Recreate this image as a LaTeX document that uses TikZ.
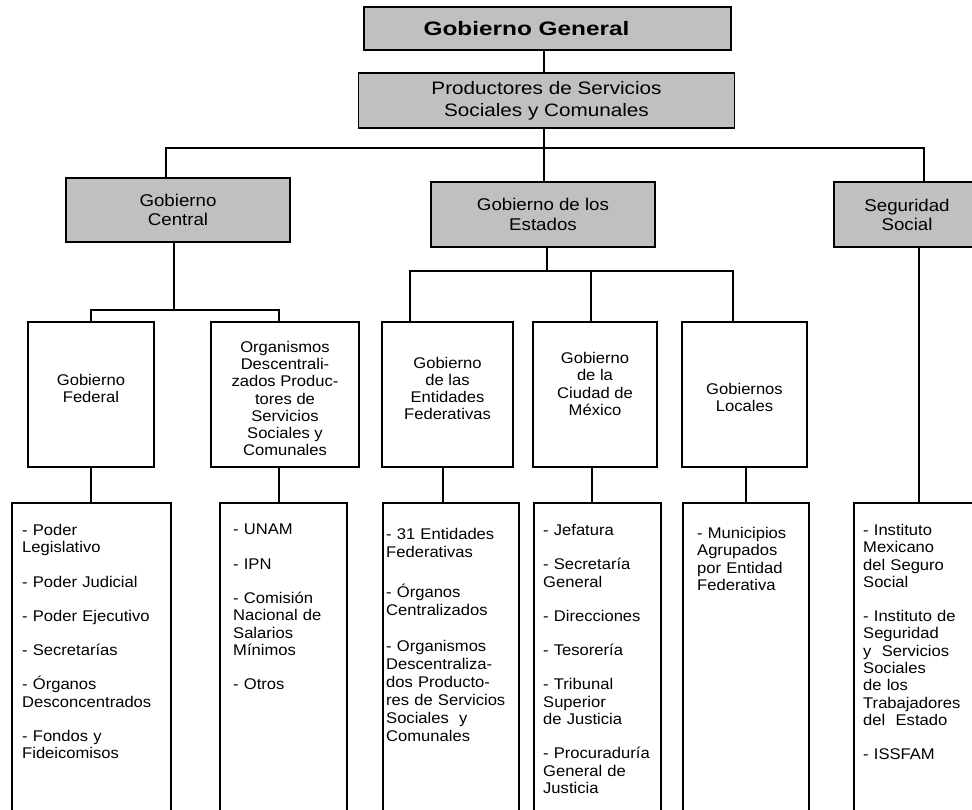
\documentclass[tikz,border=0pt]{standalone}
\usepackage{fontspec}
\setmainfont{Liberation Sans}[FakeStretch=1.07]
\newfontfamily\titlefont{Liberation Sans}[FakeStretch=1.25]
\newfontfamily\prodfont{Liberation Sans}[FakeStretch=1.15]
\newfontfamily\secfont{Liberation Sans}[FakeStretch=1.1]
\definecolor{boxgray}{RGB}{192,192,192}

\begin{document}
\begin{tikzpicture}[x=1pt,y=-1pt,
    topbox/.style={draw,line width=1.8pt,fill=boxgray,inner sep=0pt,align=center},
    midbox/.style={draw,line width=1.8pt,inner sep=0pt,minimum width=#1,minimum height=145},
    midtxt/.style={inner sep=0pt,align=center,font=\fontsize{15.5}{17.2}\selectfont},
    lowbox/.style={draw,line width=1.8pt,inner sep=0pt,minimum width=#1,minimum height=330},
    lowtxt/.style={anchor=north west,inner sep=0pt,text width=150,align=left,
        font=\fontsize{15.5}{17.3}\selectfont},
    conn/.style={line width=1.4pt}]
    \useasboundingbox (0,0) rectangle (972,810);
    \clip (0,0) rectangle (972,810);

    % top
    \node[topbox,minimum width=367,minimum height=43,font=\fontsize{19.5}{22}\titlefont\bfseries]
        (gg) at (547.5,28.5) {\hspace*{-42pt}Gobierno General};
    \node[topbox,minimum width=376,minimum height=55,font=\fontsize{18}{21.7}\prodfont]
        (prod) at (546.5,100.5) {Productores de Servicios\\Sociales y Comunales};
    \node[topbox,minimum width=224,minimum height=64,font=\fontsize{17}{18.5}\secfont]
        (gcen) at (178,210) {Gobierno\\Central};
    \node[topbox,minimum width=224,minimum height=65,font=\fontsize{17}{19.5}\secfont]
        (gest) at (543,214.5) {Gobierno de los\\Estados};
    \node[topbox,minimum width=146,minimum height=65,font=\fontsize{17}{19}\secfont]
        (segs) at (907,214.5) {Seguridad\\Social};

    % second level
    \node[midbox=126] (fed) at (91,394.5) {};
    \node[midbox=148] (org) at (285,394.5) {};
    \node[midbox=131] (ent) at (447.5,394.5) {};
    \node[midbox=124] (cdmx) at (595,394.5) {};
    \node[midbox=125] (loc) at (744.5,394.5) {};
    \node[midtxt] (tfedm) at (91,388.5) {Gobierno\\Federal};
    \node[midtxt] (torgm) at (285,398.5) {Organismos\\Descentrali-\\zados Produc-\\tores de\\Servicios\\Sociales y\\Comunales};
    \node[midtxt] (tentm) at (447.5,388.5) {Gobierno\\de las\\Entidades\\Federativas};
    \node[midtxt] (tcdmxm) at (595,384) {Gobierno\\de la\\Ciudad de\\México};
    \node[midtxt] (tlocm) at (744.5,397.5) {Gobiernos\\Locales};

    % third level
    \node[lowbox=159] (lfed) at (91.5,668) {};
    \node[lowbox=127] (lorg) at (283.5,668) {};
    \node[lowbox=136] (lent) at (451,668) {};
    \node[lowbox=127] (lcdmx) at (597.5,668) {};
    \node[lowbox=126] (lloc) at (746,668) {};
    \node[lowbox=136] (lseg) at (922,668) {};

    \node[lowtxt] (tfed) at (22,524) {- Poder\\Legislativo\\[17pt]- Poder Judicial\\[17pt]- Poder Ejecutivo\\[17pt]- Secretarías\\[17pt]- Órganos\\Desconcentrados\\[17pt]- Fondos y\\Fideicomisos};
    \node[lowtxt] (torg) at (233,524) {- UNAM\\[17pt]- IPN\\[17pt]- Comisión\\Nacional de\\Salarios\\Mínimos\\[17pt]- Otros};
    \node[lowtxt,font=\fontsize{15.5}{18}\selectfont] (tent) at (386,528) {- 31 Entidades\\Federativas\\[22pt]- Órganos\\Centralizados\\[18pt]- Organismos\\Descentraliza-\\dos Producto-\\res de Servicios\\Sociales\ \ y\\Comunales};
    \node[lowtxt] (tcdmx) at (543,524) {- Jefatura\\[17pt]- Secretaría\\General\\[17pt]- Direcciones\\[17pt]- Tesorería\\[17pt]- Tribunal\\Superior\\de Justicia\\[17pt]- Procuraduría\\General de\\Justicia};
    \node[lowtxt] (tloc) at (697,527) {- Municipios\\Agrupados\\por Entidad\\Federativa};
    \node[lowtxt] (tseg) at (863,524) {- Instituto\\Mexicano\\del Seguro\\Social\\[17pt]- Instituto de\\Seguridad\\y\ \ Servicios\\Sociales\\de los\\Trabajadores\\del\ \ Estado\\[17pt]- ISSFAM};

    % connectors
    \coordinate (busl) at (166,148);
    \coordinate (busm) at (544,148);
    \coordinate (busr) at (924,148);
    \draw[conn] (busm |- gg.south) -- (busm |- prod.north);
    \draw[conn] (busm |- prod.south) -- (busm |- gest.north);
    \draw[conn] (busl |- gcen.north) -- (busl) -- (busr) -- (busr |- segs.north);

    \coordinate (cc) at (174,310);
    \coordinate (cl) at (91,310);
    \coordinate (cr) at (279,310);
    \draw[conn] (cc |- gcen.south) -- (cc);
    \draw[conn] (cl |- fed.north) -- (cl) -- (cr) -- (cr |- org.north);

    \coordinate (ec) at (547,271);
    \coordinate (el) at (410,271);
    \coordinate (em) at (591,271);
    \coordinate (er) at (733,271);
    \draw[conn] (ec |- gest.south) -- (ec);
    \draw[conn] (el |- ent.north) -- (el) -- (er) -- (er |- loc.north);
    \draw[conn] (em) -- (em |- cdmx.north);

    \foreach \a/\b/\x in {fed/lfed/91,org/lorg/279,ent/lent/443,cdmx/lcdmx/592,loc/lloc/746,segs/lseg/919}{
        \coordinate (d) at (\x,0);
        \draw[conn] (d |- \a.south) -- (d |- \b.north);
    }
\end{tikzpicture}
\end{document}
